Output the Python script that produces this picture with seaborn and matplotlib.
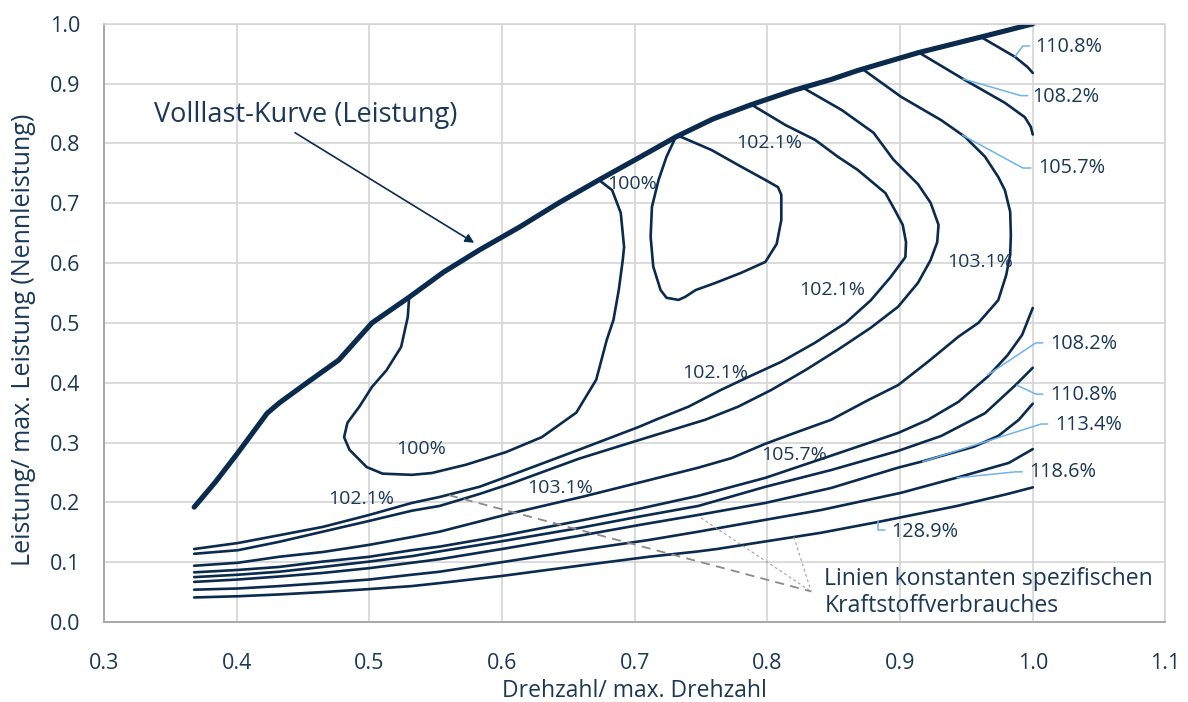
import matplotlib
matplotlib.use("Agg")
import matplotlib.pyplot as plt
import numpy as np
import pandas as pd
import seaborn as sns

# ---- full-load curve (normalised speed vs. normalised power) ----
full_load_n = [0.368, 0.384, 0.401, 0.423, 0.432, 0.453, 0.477, 0.502, 0.530, 0.556,
               0.583, 0.613, 0.643, 0.673, 0.703, 0.731, 0.759, 0.788, 0.820, 0.848,
               0.868, 0.914, 0.961, 1.000]
full_load_p = [0.192, 0.234, 0.283, 0.349, 0.366, 0.400, 0.438, 0.500, 0.543, 0.585,
               0.622, 0.660, 0.701, 0.739, 0.776, 0.811, 0.841, 0.865, 0.889, 0.907,
               0.922, 0.952, 0.978, 1.000]

# ---- iso-consumption lines (relative specific fuel consumption) ----
iso_100_n = [0.530, 0.529, 0.524, 0.513, 0.502, 0.4925, 0.4835, 0.481, 0.485, 0.498,
             0.510, 0.532, 0.547, 0.573, 0.603, 0.630, 0.656, 0.671, 0.679, 0.684,
             0.688, 0.691, 0.692, 0.6895, 0.683, 0.673]
iso_100_p = [0.543, 0.510, 0.460, 0.421, 0.393, 0.360, 0.333, 0.309, 0.288, 0.259,
             0.248, 0.246, 0.249, 0.263, 0.284, 0.309, 0.350, 0.405, 0.472, 0.505,
             0.555, 0.605, 0.627, 0.684, 0.722, 0.739]

iso_102a_n = [0.731, 0.735, 0.758, 0.778, 0.7985, 0.808, 0.8105, 0.8105, 0.807, 0.7985,
              0.7805, 0.761, 0.746, 0.738, 0.733, 0.724, 0.7195, 0.714, 0.712, 0.713,
              0.718, 0.724, 0.731]
iso_102a_p = [0.811, 0.811, 0.789, 0.764, 0.739, 0.727, 0.714, 0.672, 0.632, 0.602,
              0.584, 0.567, 0.555, 0.5435, 0.5385, 0.542, 0.555, 0.594, 0.644, 0.694,
              0.739, 0.778, 0.811]

iso_102b_n = [0.788, 0.8135, 0.836, 0.853, 0.868, 0.889, 0.896, 0.902, 0.9045, 0.904,
              0.893, 0.878, 0.859, 0.836, 0.8105, 0.786, 0.765, 0.7406, 0.7158, 0.703,
              0.658, 0.6075, 0.583, 0.553, 0.532, 0.500, 0.465, 0.432, 0.401, 0.368]
iso_102b_p = [0.865, 0.831, 0.806, 0.778, 0.756, 0.717, 0.689, 0.664, 0.635, 0.610,
              0.577, 0.538, 0.500, 0.467, 0.435, 0.410, 0.388, 0.360, 0.338, 0.326,
              0.288, 0.246, 0.226, 0.209, 0.199, 0.179, 0.159, 0.145, 0.132, 0.122]

iso_103_n = [0.827, 0.856, 0.880, 0.895, 0.9135, 0.923, 0.929, 0.928, 0.923, 0.9135,
             0.8985, 0.878, 0.853, 0.8286, 0.803, 0.778, 0.753, 0.728, 0.703, 0.658,
             0.6075, 0.583, 0.553, 0.532, 0.500, 0.465, 0.432, 0.401, 0.368]
iso_103_p = [0.893, 0.856, 0.818, 0.773, 0.732, 0.701, 0.664, 0.635, 0.605, 0.567,
             0.527, 0.492, 0.455, 0.421, 0.388, 0.360, 0.338, 0.321, 0.304, 0.273,
             0.232, 0.214, 0.194, 0.186, 0.169, 0.151, 0.134, 0.120, 0.114]

iso_105_n = [0.872, 0.9008, 0.931, 0.949, 0.964, 0.974, 0.979, 0.983, 0.9835, 0.983,
             0.980, 0.974, 0.959, 0.944, 0.921, 0.8985, 0.876, 0.848, 0.823, 0.7985,
             0.773, 0.748, 0.7105, 0.660, 0.6075, 0.553, 0.532, 0.500, 0.465, 0.432,
             0.401, 0.368]
iso_105_p = [0.924, 0.878, 0.839, 0.811, 0.778, 0.744, 0.722, 0.686, 0.647, 0.614,
             0.580, 0.538, 0.500, 0.477, 0.435, 0.396, 0.371, 0.338, 0.318, 0.298,
             0.274, 0.258, 0.237, 0.209, 0.182, 0.151, 0.142, 0.129, 0.117, 0.109,
             0.099, 0.094]

iso_108_top_n = [0.9135, 0.949, 0.979, 0.994, 0.9985, 1.000]
iso_108_top_p = [0.953, 0.906, 0.868, 0.844, 0.828, 0.815]

iso_110_top_n = [0.961, 0.9865, 0.996, 1.000]
iso_110_top_p = [0.978, 0.945, 0.928, 0.918]

iso_108_n = [0.368, 0.401, 0.432, 0.465, 0.500, 0.532, 0.553, 0.600, 0.658, 0.703,
             0.748, 0.7985, 0.848, 0.8985, 0.921, 0.944, 0.966, 0.981, 0.992, 1.000]
iso_108_p = [0.083, 0.087, 0.092, 0.101, 0.109, 0.120, 0.126, 0.144, 0.169, 0.189,
             0.211, 0.241, 0.278, 0.316, 0.338, 0.368, 0.410, 0.446, 0.480, 0.525]

iso_110_n = [0.368, 0.401, 0.432, 0.465, 0.500, 0.532, 0.553, 0.600, 0.658, 0.703,
             0.748, 0.7985, 0.848, 0.8985, 0.931, 0.964, 0.987, 1.000]
iso_110_p = [0.075, 0.079, 0.084, 0.092, 0.101, 0.110, 0.118, 0.135, 0.157, 0.176,
             0.194, 0.226, 0.254, 0.286, 0.311, 0.349, 0.396, 0.425]

iso_113_n = [0.368, 0.401, 0.432, 0.465, 0.500, 0.532, 0.553, 0.600, 0.658, 0.703,
             0.748, 0.7985, 0.848, 0.8985, 0.916, 0.9556, 0.974, 0.9895, 1.000]
iso_113_p = [0.067, 0.071, 0.076, 0.082, 0.090, 0.099, 0.105, 0.122, 0.144, 0.162,
             0.179, 0.199, 0.224, 0.258, 0.268, 0.293, 0.311, 0.338, 0.365]

iso_118_n = [0.368, 0.401, 0.432, 0.465, 0.500, 0.532, 0.553, 0.600, 0.658, 0.7105,
             0.748, 0.799, 0.840, 0.9008, 0.944, 0.982, 1.000]
iso_118_p = [0.054, 0.056, 0.060, 0.065, 0.071, 0.079, 0.084, 0.100, 0.120, 0.137,
             0.151, 0.171, 0.187, 0.216, 0.242, 0.266, 0.289]

iso_128_n = [0.368, 0.401, 0.432, 0.465, 0.500, 0.532, 0.553, 0.600, 0.658, 0.7105,
             0.748, 0.762, 0.840, 0.883, 0.943, 0.981, 1.000]
iso_128_p = [0.041, 0.043, 0.046, 0.050, 0.055, 0.060, 0.065, 0.077, 0.094, 0.109,
             0.118, 0.122, 0.149, 0.167, 0.194, 0.214, 0.225]

iso_lines = {
    "100": (iso_100_n, iso_100_p),
    "102.1 Insel": (iso_102a_n, iso_102a_p),
    "102.1": (iso_102b_n, iso_102b_p),
    "103.1": (iso_103_n, iso_103_p),
    "105.7": (iso_105_n, iso_105_p),
    "108.2 oben": (iso_108_top_n, iso_108_top_p),
    "110.8 oben": (iso_110_top_n, iso_110_top_p),
    "108.2": (iso_108_n, iso_108_p),
    "110.8": (iso_110_n, iso_110_p),
    "113.4": (iso_113_n, iso_113_p),
    "118.6": (iso_118_n, iso_118_p),
    "128.9": (iso_128_n, iso_128_p),
}

# inline labels: text, x, y
inline_labels = [
    ("100%", 0.698, 0.732), ("100%", 0.539, 0.289),
    ("102.1%", 0.801, 0.801), ("102.1%", 0.849, 0.555),
    ("102.1%", 0.761, 0.416), ("102.1%", 0.494, 0.206),
    ("103.1%", 0.644, 0.224), ("103.1%", 0.960, 0.602),
    ("105.7%", 0.820, 0.279),
]

# callout labels on the right: text, label anchor (x, y), leader path
callout_labels = ["110.8%", "108.2%", "105.7%", "108.2%", "110.8%", "113.4%", "118.6%", "128.9%"]
callout_x = [1.002, 1.000, 1.004, 1.013, 1.013, 1.017, 0.997, 0.893]
callout_y = [0.962, 0.877, 0.759, 0.464, 0.380, 0.329, 0.250, 0.151]
leader_n = [[0.9977, 0.9925, 0.9865], [0.9962, 0.991, 0.9474], [0.9985, 0.9925, 0.947],
            [1.0075, 1.0023, 0.966], [1.0075, 1.0023, 0.988], [1.0113, 1.0064, 0.917],
            [0.9921, 0.987, 0.943], [0.8884, 0.8835, 0.8835]]
leader_p = [[0.963, 0.963, 0.945], [0.880, 0.880, 0.908], [0.759, 0.759, 0.814],
            [0.4666, 0.4666, 0.413], [0.381, 0.381, 0.396], [0.331, 0.331, 0.268],
            [0.251, 0.251, 0.241], [0.154, 0.154, 0.168]]

NAVY = "#0a2b4e"
TEXT = "#1b3857"
LEADER = "#6fb3ea"

sns.set_theme(style="whitegrid")
plt.rcParams["font.family"] = ["Open Sans", "DejaVu Sans"]

fig = plt.figure(figsize=(11.88, 7.02), dpi=100)
ax = fig.add_axes([0.0875, 0.114, 0.8935, 0.852])

rows = []
for name, (n_vals, p_vals) in iso_lines.items():
    for i, (n, p) in enumerate(zip(n_vals, p_vals)):
        rows.append({"Linie": name, "n": n, "p": p, "i": i})
iso_df = pd.DataFrame(rows)

sns.lineplot(data=iso_df, x="n", y="p", units="Linie", estimator=None, sort=False,
             color=NAVY, lw=1.9, ax=ax, legend=False,
             solid_joinstyle="round", solid_capstyle="round")

fl_df = pd.DataFrame({"n": full_load_n, "p": full_load_p})
sns.lineplot(data=fl_df, x="n", y="p", sort=False, estimator=None,
             color=NAVY, lw=3.7, ax=ax, legend=False,
             solid_capstyle="round", solid_joinstyle="round")

# leader lines for right-hand labels
for ln, lp in zip(leader_n, leader_p):
    ax.plot(ln, lp, color=LEADER, lw=1.1, solid_joinstyle="miter")

for txt, x, y in inline_labels:
    ax.text(x, y, txt, ha="center", va="center", fontsize=14, color=TEXT)
for txt, x, y in zip(callout_labels, callout_x, callout_y):
    ax.text(x, y, txt, ha="left", va="center", fontsize=14.3, color=TEXT)

# full-load annotation
ax.annotate("", xy=(0.579, 0.634), xytext=(0.444, 0.818),
            arrowprops=dict(arrowstyle="-|>", color=NAVY, lw=1.2, mutation_scale=13,
                            shrinkA=0, shrinkB=0))
ax.text(0.338, 0.848, "Volllast-Kurve (Leistung)", ha="left", va="center",
        fontsize=19.5, color=TEXT)

# pointer lines to the iso-consumption note
meet = (0.833, 0.051)
ax.plot([0.560, meet[0]], [0.212, meet[1]], color="#8a8a8a", lw=1.3, ls=(0, (5, 3.5)))
ax.plot([0.750, meet[0]], [0.174, meet[1]], color="#a0a0a0", lw=0.8, ls=(0, (2.5, 2.5)))
ax.plot([0.820, meet[0]], [0.142, meet[1]], color="#a0a0a0", lw=0.8, ls=(0, (2.5, 2.5)))
ax.text(0.843, 0.0495, "Linien konstanten spezifischen\nKraftstoffverbrauches",
        ha="left", va="center", fontsize=16.6, color=TEXT, linespacing=1.15)

ax.set_xlim(0.3, 1.1)
ax.set_ylim(0.0, 1.0)
ax.set_xticks(np.arange(0.3, 1.101, 0.1))
ax.set_yticks(np.arange(0.0, 1.001, 0.1))
ax.set_xticklabels([f"{v:.1f}" for v in np.arange(0.3, 1.101, 0.1)])
ax.set_yticklabels([f"{v:.1f}" for v in np.arange(0.0, 1.001, 0.1)])
ax.tick_params(axis="x", labelsize=15.5, colors=TEXT, length=0, pad=22)
ax.tick_params(axis="y", labelsize=15.5, colors=TEXT, length=0, pad=17)
ax.set_xlabel("Drehzahl/ max. Drehzahl", fontsize=16.5, color=TEXT)
ax.set_ylabel("Leistung/ max. Leistung (Nennleistung)", fontsize=18, color=TEXT)
ax.xaxis.set_label_coords(0.5, -0.095)
ax.yaxis.set_label_coords(-0.064, 0.472)

ax.grid(True, color="#d4d4d4", lw=1.2)
ax.set_facecolor("white")
for side in ["top", "right"]:
    ax.spines[side].set_color("#d4d4d4")
    ax.spines[side].set_linewidth(1.2)
for side in ["left", "bottom"]:
    ax.spines[side].set_color("#a8a8a8")
    ax.spines[side].set_linewidth(1.4)

fig.savefig("out.png", dpi=100, facecolor="white")
